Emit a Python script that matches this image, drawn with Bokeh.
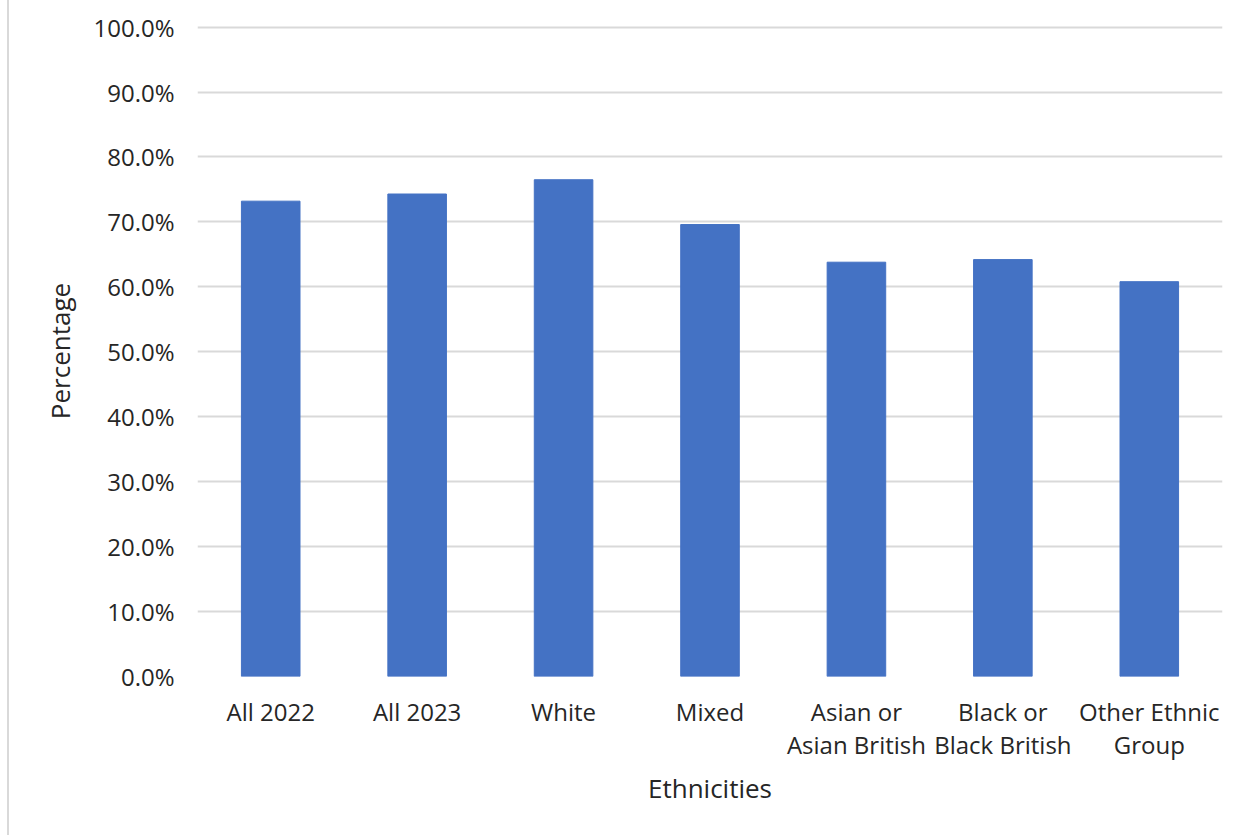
from bokeh.plotting import figure
from bokeh.models import FixedTicker, PrintfTickFormatter
from bokeh.embed import file_html
from bokeh.resources import INLINE

categories = ["All 2022", "All 2023", "White", "Mixed", "Asian or\nAsian British",
              "Black or\nBlack British", "Other Ethnic\nGroup"]
values = [73.2, 74.3, 76.5, 69.6, 63.8, 64.2, 60.8]
y_ticks = [0, 10, 20, 30, 40, 50, 60, 70, 80, 90, 100]

FONT = "Open Sans"
TXT = "#262626"

p = figure(x_range=categories, y_range=(0, 100.25), width=1235, height=835,
           output_backend="svg", toolbar_location=None,
           min_border_left=188, min_border_right=22, min_border_top=25, min_border_bottom=159)
p.styles = {"margin-left": "7px", "border-left": "2px solid #d9d9d9"}

p.vbar(x=categories, top=values, width=0.4, fill_color="#4472C4", line_color="#4472C4")

p.outline_line_color = None
p.background_fill_color = "white"
p.border_fill_color = "white"

p.xgrid.grid_line_color = None
p.ygrid.grid_line_color = "#d9d9d9"
p.ygrid.grid_line_width = 2
p.yaxis.ticker = FixedTicker(ticks=y_ticks)
p.yaxis.formatter = PrintfTickFormatter(format="%.1f%%")

for ax in (p.xaxis[0], p.yaxis[0]):
    ax.axis_line_color = None
    ax.major_tick_line_color = None
    ax.minor_tick_line_color = None
    ax.major_label_text_font = FONT
    ax.major_label_text_font_size = "24px"
    ax.major_label_text_color = TXT
    ax.major_label_text_line_height = 1.0
    ax.axis_label_text_font = FONT
    ax.axis_label_text_font_size = "26px"
    ax.axis_label_text_font_style = "normal"
    ax.axis_label_text_color = TXT

p.yaxis.major_label_standoff = 17
p.xaxis.major_label_standoff = 12
p.yaxis.axis_label = "Percentage"
p.xaxis.axis_label = "Ethnicities"
p.yaxis.axis_label_standoff = 12
p.xaxis.axis_label_standoff = 6

open("out.html", "w").write(file_html(p, INLINE))
